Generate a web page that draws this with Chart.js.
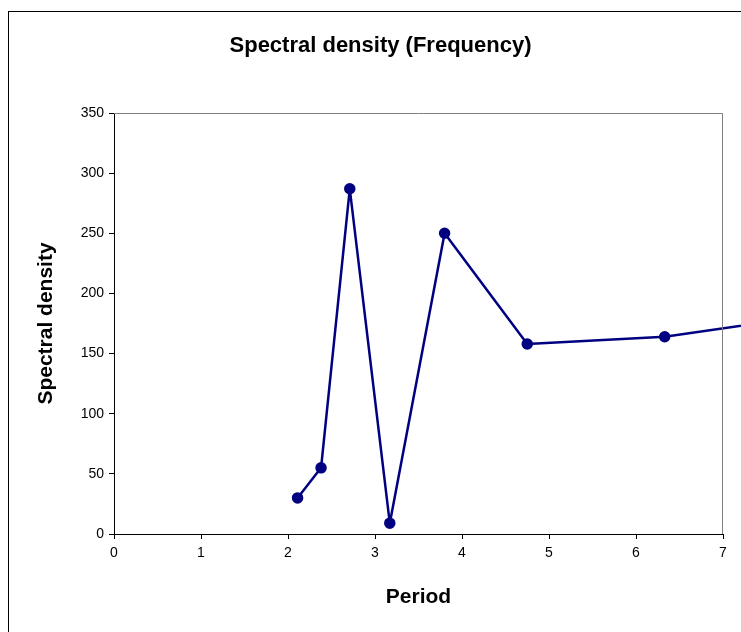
<!DOCTYPE html>
<html lang="en">
<head>
    <meta charset="UTF-8">
    <title>Spectral density (Frequency)</title>
    <script src="https://cdn.jsdelivr.net/npm/chart.js"></script>
    <style>
        body {
            margin: 0;
            padding: 0;
            background: #fff;
        }
        canvas {
            display: block;
        }
    </style>
</head>
<body>
    <canvas id="spectralChart" width="741" height="632"></canvas>

    <script>
        // values (last point lies past the axis end)
        const periods = [2.11, 2.38, 2.71, 3.17, 3.80, 4.75, 6.33, 9.50];
        const density = [30, 55, 287, 9, 250, 158, 164, 197];
        const xTicks = [0, 1, 2, 3, 4, 5, 6, 7];
        const yTicks = [0, 50, 100, 150, 200, 250, 300, 350];

        const points = periods.map((p, i) => ({ x: p, y: density[i] }));
        const FONT = 'Liberation Sans, Arial, sans-serif';

        // outer frame + grey top/right edge of the plot area
        const frame = {
            id: 'frame',
            beforeDraw(chart) {
                const c = chart.ctx;
                c.save();
                c.strokeStyle = '#000';
                c.lineWidth = 1;
                c.strokeRect(8.5, 11.5, 800, 700);
                c.restore();
            },
            afterDraw(chart) {
                const a = chart.chartArea;
                const c = chart.ctx;
                c.save();
                c.strokeStyle = '#808080';
                c.lineWidth = 1;
                c.beginPath();
                c.moveTo(a.left, a.top + 0.5);
                c.lineTo(a.right - 0.5, a.top + 0.5);
                c.lineTo(a.right - 0.5, a.bottom);
                c.stroke();
                c.restore();
            }
        };

        const ctx = document.getElementById('spectralChart').getContext('2d');

        const spectralChart = new Chart(ctx, {
            type: 'line',
            data: {
                datasets: [{
                    label: 'Spectral density',
                    data: points,
                    borderColor: '#000080',
                    backgroundColor: '#000080',
                    borderWidth: 2.5,
                    borderJoinStyle: 'round',
                    pointRadius: 4.5,
                    pointHoverRadius: 4.5,
                    tension: 0,
                    clip: false
                }]
            },
            options: {
                responsive: false,
                animation: false,
                layout: { padding: { left: 38, right: 18, top: 0, bottom: 0 } },
                plugins: {
                    legend: { display: false },
                    tooltip: { enabled: false },
                    title: {
                        display: true,
                        text: 'Spectral density (Frequency)',
                        color: '#000',
                        font: { family: FONT, size: 22, weight: 'bold' },
                        padding: { top: 32.8, bottom: 53.8 }
                    }
                },
                scales: {
                    x: {
                        type: 'linear',
                        min: 0,
                        max: 7,
                        afterFit: s => { s.height = 98; },
                        afterBuildTicks: s => { s.ticks = xTicks.map(v => ({ value: v })); },
                        ticks: {
                            color: '#000',
                            padding: 6,
                            font: { family: FONT, size: 14 }
                        },
                        grid: { drawOnChartArea: false, tickLength: 5, color: '#000' },
                        border: { color: '#000', width: 1 },
                        title: {
                            display: true,
                            text: 'Period',
                            color: '#000',
                            font: { family: FONT, size: 21, weight: 'bold' },
                            padding: { bottom: 22.4 }
                        }
                    },
                    y: {
                        min: 0,
                        max: 350,
                        afterFit: s => { s.width = 76; },
                        afterBuildTicks: s => { s.ticks = yTicks.map(v => ({ value: v })); },
                        ticks: {
                            color: '#000',
                            padding: 5,
                            font: { family: FONT, size: 14 }
                        },
                        grid: { drawOnChartArea: false, tickLength: 5, color: '#000' },
                        border: { color: '#000', width: 1 },
                        title: {
                            display: true,
                            text: 'Spectral density',
                            color: '#000',
                            font: { family: FONT, size: 21, weight: 'bold' },
                            padding: { top: -4.6 }
                        }
                    }
                }
            },
            plugins: [frame]
        });
    </script>
</body>
</html>
